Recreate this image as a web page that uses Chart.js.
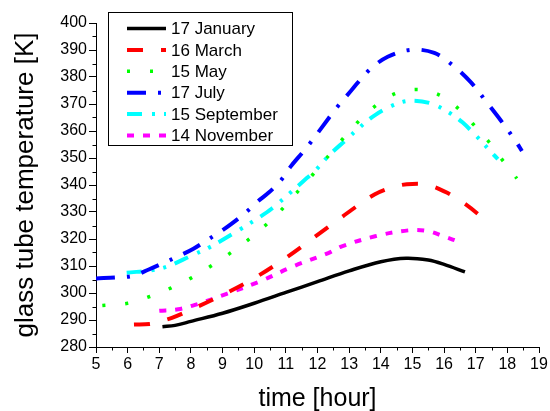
<!DOCTYPE html>
<html>
<head>
<meta charset="utf-8">
<script src="https://cdn.jsdelivr.net/npm/chart.js@4.4.1/dist/chart.umd.min.js"></script>
<style>
  html, body { margin: 0; padding: 0; background: #fff; }
  #wrap { width: 550px; height: 411px; }
</style>
</head>
<body>
<div id="wrap"><canvas id="c" width="550" height="411"></canvas></div>
<script>
// values (hour, K)
const seriesLabels = ["17 January", "16 March", "15 May", "17 July", "15 September", "14 November"];

const hoursJan = [7.1, 7.5, 8.0, 9.0, 10.0, 11.0, 12.0, 13.0, 14.0, 14.8, 15.5, 16.0, 16.66];
const tempJan  = [287.5, 288.0, 289.5, 292.5, 296.2, 300.2, 304.2, 308.2, 311.6, 312.9, 312.2, 310.6, 307.8];

const hoursMar = [6.2, 6.7, 7.0, 7.4, 8.0, 9.0, 10.0, 11.0, 12.0, 12.8, 13.8, 14.5, 15.0, 15.5, 16.1, 16.6, 17.1, 17.3];
const tempMar  = [288.3, 288.5, 289.4, 290.8, 293.8, 299.3, 305.5, 313.0, 321.5, 328.4, 336.5, 339.6, 340.4, 340.0, 337.1, 333.5, 329.0, 326.8];

const hoursMay = [5.2, 6.0, 6.7, 7.36, 8.0, 8.62, 9.21, 9.79, 10.34, 10.85, 11.34, 11.84, 12.77, 13.24, 13.8, 14.45, 15.16, 15.84, 16.38, 16.9, 17.4, 17.84, 18.3];
const tempMay  = [295.4, 296.2, 298.7, 301.8, 305.5, 309.9, 314.5, 319.5, 324.9, 330.7, 337.1, 343.7, 356.7, 362.9, 369.0, 373.8, 375.4, 373.4, 369.0, 362.8, 356.2, 349.3, 342.4];

const hoursJul = [5.0, 5.7, 6.18, 6.65, 7.13, 7.6, 8.08, 8.5, 8.9, 9.29, 9.76, 10.08, 10.45, 10.82, 11.15, 11.5, 11.74, 12.11, 12.61, 13.06, 13.61, 14.22, 14.98, 15.69, 16.29, 16.85, 17.35, 17.8, 18.26, 18.46];
const tempJul  = [305.4, 305.8, 306.4, 308.6, 311.1, 313.6, 316.4, 319.5, 322.5, 325.7, 330.1, 333.6, 337.1, 341.4, 346.8, 351.7, 355.1, 360.9, 368.7, 374.9, 382.3, 387.5, 390.1, 388.9, 384.2, 378.0, 370.6, 363.8, 356.3, 352.6];

const hoursSep = [5.97, 6.86, 7.34, 7.97, 8.55, 9.02, 9.6, 10.13, 10.55, 11.08, 11.55, 11.92, 12.4, 12.9, 13.27, 13.82, 14.45, 14.92, 15.59, 16.19, 16.58, 17.03, 17.53, 17.7];
const tempSep  = [307.5, 308.6, 310.2, 313.6, 316.7, 319.8, 323.9, 327.8, 331.2, 336.5, 341.4, 345.3, 351.4, 356.7, 360.7, 365.9, 369.8, 371.2, 370.2, 366.6, 363.2, 358.0, 351.7, 349.6];

const hoursNov = [7.0, 7.6, 8.13, 9.13, 10.18, 11.24, 12.34, 12.77, 13.82, 14.87, 15.5, 15.98, 16.56];
const tempNov  = [293.4, 294.0, 295.6, 299.7, 304.3, 309.9, 314.8, 317.3, 321.0, 323.2, 322.9, 321.0, 318.6];

const xTicks = [5, 6, 7, 8, 9, 10, 11, 12, 13, 14, 15, 16, 17, 18, 19];
const yTicks = [280, 290, 300, 310, 320, 330, 340, 350, 360, 370, 380, 390, 400];

const zip = (xs, ys) => xs.map((x, i) => ({ x: x, y: ys[i] }));

const styles = [
  { color: "#000000", dash: [], width: 3.5 },
  { color: "#ff0000", dash: [16, 18], width: 4 },
  { color: "#00ff00", dash: [3, 20], width: 3.5 },
  { color: "#0000ff", dash: [19, 12, 3, 12], width: 4 },
  { color: "#00ffff", dash: [15, 10, 3, 9, 3, 9], width: 4 },
  { color: "#ff00ff", dash: [7, 9], width: 4 }
];

const allSeries = [
  zip(hoursJan, tempJan),
  zip(hoursMar, tempMar),
  zip(hoursMay, tempMay),
  zip(hoursJul, tempJul),
  zip(hoursSep, tempSep),
  zip(hoursNov, tempNov)
];

// minor ticks on both axes
const minorTicks = {
  id: "minorTicks",
  afterDraw(chart) {
    const ctx = chart.ctx;
    const xs = chart.scales.x, ys = chart.scales.y;
    ctx.save();
    ctx.strokeStyle = "#000";
    ctx.lineWidth = 1;
    ctx.beginPath();
    for (let v = xTicks[0] + 0.5; v < xTicks[xTicks.length - 1]; v += 1) {
      const px = Math.round(xs.getPixelForValue(v)) + 0.5;
      ctx.moveTo(px, ys.bottom);
      ctx.lineTo(px, ys.bottom + 3.5);
    }
    for (let v = yTicks[0] + 5; v < yTicks[yTicks.length - 1]; v += 10) {
      const py = Math.round(ys.getPixelForValue(v)) + 0.5;
      ctx.moveTo(xs.left, py);
      ctx.lineTo(xs.left - 3.5, py);
    }
    ctx.stroke();
    ctx.restore();
  }
};

// boxed legend inside the plot, top left
const boxLegend = {
  id: "boxLegend",
  afterDraw(chart) {
    const ctx = chart.ctx;
    const x0 = 108, y0 = 12, w = 184, h = 133;
    ctx.save();
    ctx.fillStyle = "#fff";
    ctx.fillRect(x0, y0, w, h);
    ctx.strokeStyle = "#000";
    ctx.lineWidth = 1;
    ctx.strokeRect(x0 + 0.5, y0 + 0.5, w, h);
    ctx.font = "17px 'Liberation Sans', Arial, sans-serif";
    ctx.textBaseline = "middle";
    chart.data.datasets.forEach((ds, i) => {
      const yy = y0 + 16.5 + i * 21.4;
      ctx.strokeStyle = ds.borderColor;
      ctx.lineWidth = ds.borderWidth;
      ctx.setLineDash(ds.borderDash);
      ctx.beginPath();
      ctx.moveTo(127, yy);
      ctx.lineTo(166, yy);
      ctx.stroke();
      ctx.setLineDash([]);
      ctx.fillStyle = "#000";
      ctx.fillText(ds.label, 171, yy + 1);
    });
    ctx.restore();
  }
};

new Chart(document.getElementById("c"), {
  type: "line",
  data: {
    datasets: allSeries.map((pts, i) => ({
      label: seriesLabels[i],
      data: pts,
      borderColor: styles[i].color,
      backgroundColor: styles[i].color,
      borderWidth: styles[i].width,
      borderDash: styles[i].dash,
      borderCapStyle: "butt",
      pointRadius: 0,
      tension: 0.35,
      fill: false
    }))
  },
  options: {
    responsive: false,
    animation: false,
    layout: { padding: { top: 23, right: 11, left: 0, bottom: 0 } },
    plugins: {
      legend: { display: false },
      tooltip: { enabled: false }
    },
    scales: {
      x: {
        type: "linear",
        min: 5, max: 19,
        afterBuildTicks: s => { s.ticks = xTicks.map(v => ({ value: v })); },
        afterFit: s => { s.height = 64; },
        grid: { drawOnChartArea: false, color: "#000", tickLength: 6, tickColor: "#000" },
        border: { color: "#000", width: 1 },
        ticks: { color: "#000", padding: 2, maxRotation: 0, font: { family: "'Liberation Sans', Arial, sans-serif", size: 16 } },
        title: { display: true, text: "time [hour]", color: "#000", padding: { top: 4, bottom: -3 }, font: { family: "'Liberation Sans', Arial, sans-serif", size: 25 } }
      },
      y: {
        type: "linear",
        min: 280, max: 400,
        afterBuildTicks: s => { s.ticks = yTicks.map(v => ({ value: v })); },
        afterFit: s => { s.width = 96; },
        grid: { drawOnChartArea: false, color: "#000", tickLength: 7, tickColor: "#000" },
        border: { color: "#000", width: 1 },
        ticks: { color: "#000", padding: 2, font: { family: "'Liberation Sans', Arial, sans-serif", size: 16 } },
        title: { display: true, text: "glass tube temperature [K]", color: "#000", padding: { top: 10, bottom: 0 }, font: { family: "'Liberation Sans', Arial, sans-serif", size: 26 } }
      }
    }
  },
  plugins: [minorTicks, boxLegend]
});
</script>
</body>
</html>
